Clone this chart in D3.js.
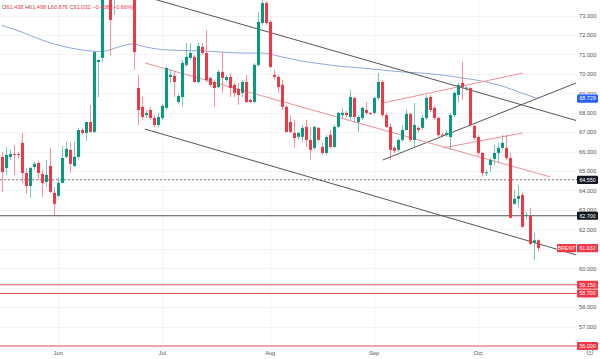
<!DOCTYPE html>
<html><head><meta charset="utf-8">
<script src="https://cdn.jsdelivr.net/npm/d3@7"></script>
<style>body{margin:0;background:#fff}svg{display:block}text{font-family:"Liberation Sans",Arial,sans-serif}</style>
</head><body><svg id="c" width="600" height="359"></svg>
<script>
// ---- data (daily candles, index 0 = first visible bar) ----
const open=[65.73,65.16,65.73,65.88,65.88,66.45,64.90,64.23,65.21,65.42,
64.85,64.44,65.26,63.88,63.72,64.39,65.73,66.09,65.26,65.73,
67.11,66.96,67.52,67.01,70.61,70.82,74.6,75.5,74.2,75.6,
76.4,77.6,76.9,77.0,69.27,68.30,67.88,68.14,67.73,67.37,
67.73,68.25,69.84,69.89,68.55,68.81,70.46,70.82,70.87,69.58,
71.38,71.07,69.79,69.58,69.32,70.10,69.68,69.84,69.43,69.22,
69.02,69.58,68.66,68.55,70.46,72.61,73.64,72.67,69.94,69.84,
69.43,68.30,67.52,66.96,66.76,66.76,67.27,66.60,66.19,67.22,
66.24,65.93,66.86,66.24,67.27,67.88,67.99,67.78,68.76,67.52,
67.73,68.14,67.99,67.99,68.76,69.58,67.88,67.27,66.19,66.09,
66.60,67.11,67.94,66.60,67.22,67.22,67.73,68.81,68.25,67.73,
66.88,66.86,66.75,67.88,68.91,69.53,69.27,69.27,67.32,66.75,
65.93,64.90,65.31,65.62,65.93,66.19,66.19,65.67,63.31,63.57,
63.77,62.69,62.69,61.30,61.438];
const high=[65.98,66.24,66.09,66.34,65.98,66.96,65.16,65.21,65.47,65.52,
65.06,65.57,66.19,64.18,64.65,66.29,66.50,66.45,66.50,67.22,
67.22,67.55,68.40,71.15,70.75,75.3,76.4,76.0,76.3,77.0,
78.2,78.4,79.2,79.6,69.94,68.81,68.14,68.30,67.88,67.99,
68.45,70.40,70.20,70.10,68.97,70.71,71.59,71.59,70.97,71.59,
71.59,72.25,69.84,69.68,70.20,71.12,69.94,70.04,69.53,69.53,
69.68,69.94,68.76,70.56,73.18,73.80,73.74,72.77,70.20,69.94,
69.68,68.40,67.88,67.63,67.01,67.37,67.63,67.27,67.32,67.27,
66.45,66.86,67.11,67.37,68.04,68.25,68.09,69.17,68.81,67.88,
68.30,68.55,68.04,68.81,70.04,69.68,67.99,67.47,66.29,66.70,
67.37,68.14,67.99,68.50,67.32,67.88,68.91,68.91,68.35,67.78,
66.96,67.11,67.99,69.07,69.53,70.61,69.37,69.32,67.37,66.86,
65.98,65.06,65.67,66.34,66.45,66.86,66.86,65.93,64.03,64.29,
63.88,62.90,63.10,61.82,61.498];
const low=[63.93,64.80,65.57,64.80,65.67,64.39,63.82,63.62,65.06,64.54,
63.67,64.18,63.88,62.74,63.67,64.37,65.67,64.90,65.21,65.57,
66.86,66.55,66.96,66.96,68.81,70.6,74.2,70.97,73.03,74.8,
75.9,76.2,75.8,70.20,67.37,67.63,67.73,67.63,67.27,67.22,
67.63,68.14,69.53,68.81,68.45,68.30,70.35,70.71,69.53,69.48,
70.97,69.58,69.32,68.30,69.27,69.02,69.58,68.81,68.81,68.40,
68.81,68.50,68.50,68.50,70.35,72.51,72.51,70.30,69.68,69.02,
68.14,66.96,66.96,66.19,66.60,66.50,66.24,65.57,66.09,66.50,
65.83,65.83,66.19,66.19,67.22,67.73,67.78,67.63,67.52,67.01,
67.63,67.88,67.88,67.88,68.66,67.78,67.22,65.57,65.93,65.98,
66.50,67.08,66.50,66.24,67.01,67.11,67.63,68.04,67.63,66.75,
66.75,66.75,66.09,67.78,68.55,68.66,69.12,67.27,66.60,65.83,
64.70,64.75,64.95,65.31,65.47,66.09,65.57,62.56,63.26,63.10,
62.08,62.49,61.20,60.43,60.876];
const close=[64.95,65.83,65.88,65.83,65.83,64.90,64.23,65.16,65.37,64.90,
64.39,64.80,63.93,63.31,64.39,65.67,66.14,65.37,65.73,67.11,
66.96,67.52,67.01,71.12,70.71,74.6,75.8,72.77,75.6,76.4,
77.6,76.8,77.4,71.12,68.14,67.78,67.99,67.73,67.37,67.78,
68.35,70.30,69.94,69.58,68.86,70.56,70.87,71.07,69.58,71.43,
71.07,69.68,69.43,69.27,70.10,69.79,69.84,69.27,69.02,68.91,
69.58,68.55,68.55,70.46,72.67,73.64,72.61,70.35,69.84,69.32,
68.30,67.01,67.01,66.70,66.96,67.22,66.60,66.09,67.27,66.60,
65.93,66.75,66.24,67.27,67.99,67.99,67.88,68.81,67.78,67.78,
68.25,67.99,67.94,68.76,69.58,67.88,67.27,66.09,66.04,66.60,
67.11,67.94,66.60,67.37,67.11,67.73,68.76,68.14,67.73,66.86,
66.84,66.96,67.88,69.02,69.43,69.32,69.29,67.37,66.70,65.93,
64.90,64.93,65.57,65.93,66.19,66.45,65.67,62.59,63.57,63.72,
62.13,62.74,61.25,61.44,61.032];
const symbol="BRENT";
const monthLabels=["Jun","Jul","Aug","Sep","Oct"];
const monthStartIdx=[14,40,67,93,119];
const priceTicks=d3.range(56,74);
// moving average read at sampled bars
const maIdx=[0,5,10,15,20,25,30,33,35,40,45,50,55,60,65,70,75,80,85,90,95,100,105,110,115,120,125,130,134];
const maVal=[72.49,72.15,71.74,71.43,71.23,71.15,71.43,71.54,71.43,71.25,71.20,71.18,71.12,71.07,71.07,70.87,70.66,70.51,70.38,70.30,70.20,70.10,70.04,69.94,69.79,69.63,69.38,69.01,68.729];
// drawn trend lines: [[barIndex, price],[barIndex, price]]
const channelTop=[[37.1,73.9],[143.6,67.6]];
const channelBottom=[[35.8,67.16],[143.6,60.69]];
const midLine=[[35.8,70.56],[137.1,64.70]];
const risingTop=[[95.3,68.50],[130.3,70.04]];
const risingBottom=[[110.3,66.19],[130.3,66.96]];
const risingSupport=[[95.3,65.57],[143.6,69.53]];
const dottedLevel=64.55, solidLevel=62.70;
const redLevels=[59.15,58.70,56.00];

// ---- drawing ----
const svg=d3.select("#c");
const W=600,H=359, plotR=577, plotB=348;
const x=d3.scaleLinear().domain([0,134]).range([1.7,537.7]);
const y=d3.scaleLinear().domain([56,73]).range([346,15.5]);
const UP="#089981", DN="#f23645";
const last=open.length-1, prevClose=close[last-1], chg=close[last]-prevClose;
const boxedPrices=[maVal[maVal.length-1],dottedLevel,solidLevel,close[last],...redLevels];

svg.append("defs").append("clipPath").attr("id","clip").append("rect").attr("x",0).attr("y",0).attr("width",plotR).attr("height",plotB);
const plot=svg.append("g").attr("clip-path","url(#clip)");

// grid
plot.selectAll(".hg").data(priceTicks).join("line").attr("x1",0).attr("x2",plotR)
 .attr("y1",d=>Math.round(y(d))+0.5).attr("y2",d=>Math.round(y(d))+0.5).attr("stroke","#f3f4f7");
plot.selectAll(".vg").data(monthStartIdx).join("line").attr("y1",0).attr("y2",plotB)
 .attr("x1",d=>Math.round(x(d))+0.5).attr("x2",d=>Math.round(x(d))+0.5).attr("stroke","#f3f4f7");

// header
const hdr=svg.append("text").attr("x",2).attr("y",8.5).attr("font-size",5.6);
[["O",open[last]],["H",high[last]],["L",low[last]],["C",close[last]]].forEach(([k,v],i)=>{
  hdr.append("tspan").attr("fill","#555").text((i?" ":"")+k);
  hdr.append("tspan").attr("fill",DN).text(d3.format(".3f")(v));
});
hdr.append("tspan").attr("fill",DN).text(" "+d3.format(".3f")(chg).replace("-","−")+" ("+d3.format(".2f")(chg/prevClose*100).replace("-","−")+"%)");

// horizontal levels
const hl=(p,col,dash,w)=>plot.append("line").attr("x1",0).attr("x2",plotR).attr("y1",y(p)).attr("y2",y(p))
  .attr("stroke",col).attr("stroke-width",w).attr("stroke-dasharray",dash);
hl(dottedLevel,"#777","2,2",1);
hl(solidLevel,"#555",null,1);
redLevels.forEach(p=>hl(p,"#e5505c",null,1.2));

// MA
plot.append("path").datum(maIdx.map((d,i)=>[d,maVal[i]])).attr("fill","none").attr("stroke","#8fa9d8").attr("stroke-width",1)
 .attr("d",d3.line().x(d=>x(d[0])).y(d=>y(d[1])).curve(d3.curveMonotoneX));

// trend lines
const tl=(pts,col)=>plot.append("line").attr("x1",x(pts[0][0])).attr("y1",y(pts[0][1])).attr("x2",x(pts[1][0])).attr("y2",y(pts[1][1]))
  .attr("stroke",col).attr("stroke-width",1);
tl(channelTop,"#555"); tl(channelBottom,"#555"); tl(risingSupport,"#555");
tl(midLine,"#ef8f97"); tl(risingTop,"#ef8f97"); tl(risingBottom,"#ef8f97");

// candles
const idx=d3.range(open.length);
const cg=plot.append("g");
cg.selectAll(".w").data(idx).join("line").attr("x1",i=>Math.round(x(i))+0.5).attr("x2",i=>Math.round(x(i))+0.5)
 .attr("y1",i=>y(high[i])).attr("y2",i=>y(low[i])).attr("stroke",i=>close[i]>=open[i]?UP:DN).attr("stroke-opacity",0.55);
cg.selectAll(".b").data(idx).join("rect").attr("x",i=>Math.round(x(i))-1).attr("width",3)
 .attr("y",i=>y(Math.max(open[i],close[i]))).attr("height",i=>Math.max(1,Math.abs(y(open[i])-y(close[i]))))
 .attr("fill",i=>close[i]>=open[i]?UP:DN);

// right axis (labels hidden behind a price box are skipped)
const visibleTicks=priceTicks.filter(t=>boxedPrices.every(p=>Math.abs(y(p)-y(t))>4.5));
const ax=svg.append("g").attr("transform",`translate(${plotR+1},0)`)
 .call(d3.axisRight(y).tickValues(visibleTicks).tickSize(0).tickPadding(1).tickFormat(d3.format(".3f")));
ax.select(".domain").remove();
ax.selectAll("text").attr("font-size",5.7).attr("fill","#555").attr("font-family","Liberation Sans, Arial, sans-serif");

// bottom axis
const bx=svg.append("g").attr("transform",`translate(0,${plotB})`)
 .call(d3.axisBottom(x).tickValues(monthStartIdx).tickSize(0).tickPadding(2.5).tickFormat((d,i)=>monthLabels[i]));
bx.select(".domain").remove();
bx.selectAll("text").attr("font-size",5.7).attr("fill","#555").attr("font-family","Liberation Sans, Arial, sans-serif");

// price boxes
const box=(p,bg,label,bx0,bw)=>{
  svg.append("rect").attr("x",bx0).attr("y",y(p)-4.1).attr("width",bw).attr("height",8.2).attr("fill",bg).attr("rx",0.8);
  svg.append("text").attr("x",bx0+bw/2).attr("y",y(p)+1.9).attr("text-anchor","middle").attr("font-size",5.3).attr("fill","#fff").text(label);
};
const f3=d3.format(".3f");
box(maVal[maVal.length-1],"#2962ff",f3(maVal[maVal.length-1]),plotR,21);
box(dottedLevel,"#131722",f3(dottedLevel),plotR,21);
box(solidLevel,"#131722",f3(solidLevel),plotR,21);
redLevels.forEach(p=>box(p,DN,f3(p),plotR,21));
box(close[last],DN,f3(close[last]),plotR,21);
box(close[last],DN,symbol,plotR-20,19);

// gear icon
const gear=svg.append("g").attr("transform","translate(590,352)");
gear.append("circle").attr("r",3).attr("fill","none").attr("stroke","#888").attr("stroke-width",0.8);
gear.append("circle").attr("r",1).attr("fill","none").attr("stroke","#888").attr("stroke-width",0.7);
</script></body></html>
